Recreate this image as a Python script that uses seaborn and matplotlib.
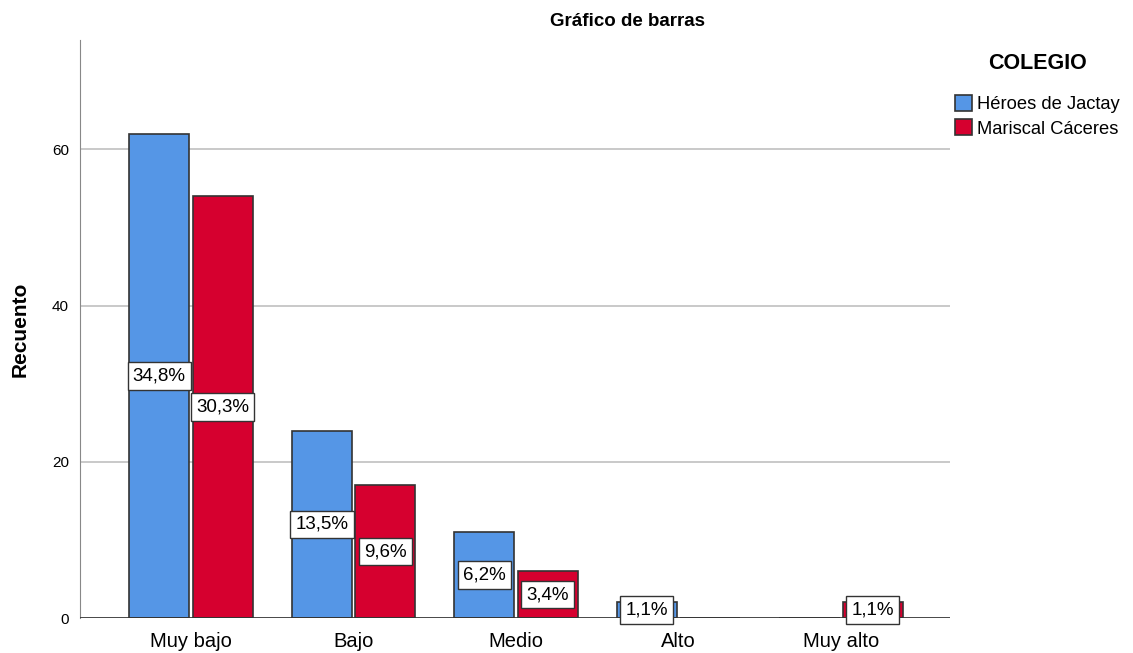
import pandas as pd
import numpy as np
import matplotlib.pyplot as plt
import seaborn as sns

niveles = ["Muy bajo", "Bajo", "Medio", "Alto", "Muy alto"]
colegios = ["Héroes de Jactay", "Mariscal Cáceres"]
heroes = [62, 24, 11, 2, 0]
mariscal = [54, 17, 6, 0, 2]

df = pd.DataFrame({
    "nivel": niveles * 2,
    "COLEGIO": [colegios[0]] * 5 + [colegios[1]] * 5,
    "Recuento": heroes + mariscal,
})
total = df["Recuento"].sum()

sns.set_style("white")
plt.rcParams['font.family'] = ['Liberation Sans', 'DejaVu Sans']
plt.rcParams['text.color'] = 'black'
plt.rcParams['xtick.color'] = 'black'
plt.rcParams['ytick.color'] = 'black'
plt.rcParams['axes.labelcolor'] = 'black'

fig = plt.figure(figsize=(11.33, 6.53), dpi=100)
ax = fig.add_axes([80/1133, 35/653, 870/1133, 578/653])

colores = ["#5596E6", "#D6002F"]
sns.barplot(data=df, x="nivel", y="Recuento", hue="COLEGIO", palette=colores,
            order=niveles, hue_order=colegios, width=0.78, gap=0.05,
            saturation=1, edgecolor="#333333", linewidth=1.2, ax=ax, legend=True)

ax.set_xlim(-0.683, 4.67)
ax.set_ylim(0, 74)
ax.set_yticks([0, 20, 40, 60])
ax.yaxis.grid(True, color="#c0c0c0", linewidth=1.2)
ax.set_axisbelow(True)
ax.tick_params(axis="y", length=0, labelsize=11, pad=8)
ax.tick_params(axis="x", length=0, labelsize=14.5, pad=10)
ax.set_xlabel("")
ax.set_ylabel("Recuento", fontsize=15, fontweight="bold", labelpad=16)
for s in ["top", "right", "bottom"]:
    ax.spines[s].set_visible(False)
ax.spines["left"].set_color("#888888")
ax.axhline(0, color="#333333", linewidth=1.2, zorder=5)

for cont in ax.containers:
    for bar in cont:
        h = bar.get_height()
        if h <= 0:
            continue
        pct = f"{100 * h / total:.1f}%".replace(".", ",")
        ax.text(bar.get_x() + bar.get_width() / 2, h / 2, pct,
                ha="center", va="center", fontsize=13.5, zorder=6,
                bbox=dict(boxstyle="square,pad=0.28", fc="white", ec="#333333", lw=1))

leg = ax.legend(title="COLEGIO", loc="upper left", bbox_to_anchor=(955/1133, 1 - 53/653),
                bbox_transform=fig.transFigure,
                frameon=False, fontsize=13.2, handlelength=0.95, handleheight=0.95,
                handletextpad=0.25, labelspacing=0.35, borderaxespad=0, borderpad=0)
leg.get_title().set_fontweight("bold")
leg.get_title().set_fontsize(15.5)
leg._legend_box.sep = 15

fig.text(628/1133, 1 - 22/653, "Gráfico de barras", ha="center", va="center",
         fontsize=13.5, fontweight="bold")

fig.savefig("out.png", dpi=100)
